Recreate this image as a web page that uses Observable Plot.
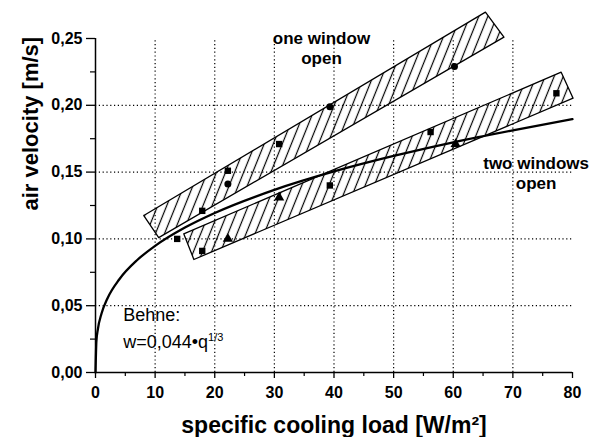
<!DOCTYPE html>
<html><head><meta charset="utf-8">
<script src="https://cdn.jsdelivr.net/npm/d3@7"></script>
<script src="https://cdn.jsdelivr.net/npm/@observablehq/plot@0.6"></script>
<style>body{margin:0;background:#fff;}</style>
</head><body><div id="chart"></div>
<script>
// ---- data ----
const xTicks = [0, 10, 20, 30, 40, 50, 60, 70, 80];
const xMinor = [5, 15, 25, 35, 45, 55, 65, 75];
const yTicks = [0, 0.05, 0.10, 0.15, 0.20, 0.25];
const yMinor = [0.025, 0.075, 0.125, 0.175, 0.225];
const xGrid = [10, 20, 30, 40, 50, 60, 70];
const yGrid = [0.05, 0.10, 0.15, 0.20];

// measured points
const squareX = [13.7, 17.9, 17.9, 22.2, 30.8, 39.3, 56.2, 77.3];
const squareY = [0.100, 0.091, 0.121, 0.151, 0.171, 0.140, 0.180, 0.209];
const circleX = [22.2, 39.3, 60.2];
const circleY = [0.141, 0.199, 0.229];
const triangleX = [22.2, 30.8, 60.4];
const triangleY = [0.100, 0.131, 0.171];

// hatched bands (corners)
const bandOneX = [8.1, 65.4, 68.5, 10.6];
const bandOneY = [0.1175, 0.2697, 0.251, 0.101];
const bandTwoX = [14.8, 78.1, 80.1, 16.5];
const bandTwoY = [0.1038, 0.2248, 0.2053, 0.0846];

// Behne curve
const curveQ = [0, 0.15, 0.4, 1, 2, 4, 7, 10, 15, 20, 30, 40, 50, 60, 70, 80];
const curveW = [0, 0.0234, 0.0325, 0.044, 0.0554, 0.0698, 0.0842, 0.0948, 0.1085, 0.1194, 0.1367, 0.1505, 0.1621, 0.1723, 0.1813, 0.1896];

// annotations
const labelText = ["one window", "open", "two windows", "open"];
const labelX = [37.9, 37.9, 73.9, 73.9];
const labelY = [0.250, 0.2348, 0.1567, 0.1412];
const behneText = ["Behne:", "w=0,044•q^1/3"];
const behneX = [4.65, 4.65];
const behneY = [0.0427, 0.0227];

const xLabel = "specific cooling load [W/m²]";
const yLabel = "air velocity [m/s]";

// ---- tables ----
const toRows = (xs, ys, extra = {}) => xs.map((x, i) => ({x, y: ys[i], ...extra}));
const closePoly = (xs, ys, band) => toRows([...xs, xs[0]], [...ys, ys[0]], {band});
const bands = [...closePoly(bandOneX, bandOneY, "one"), ...closePoly(bandTwoX, bandTwoY, "two")];
const curve = toRows(curveQ, curveW);
const labels = labelText.map((t, i) => ({t, x: labelX[i], y: labelY[i]}));
const behne = behneText.map((t, i) => ({t, x: behneX[i], y: behneY[i]}));
const fmtY = d => d3.format(".2f")(d).replace(".", ",");

const font = "Liberation Sans, Arial, Helvetica, sans-serif";

const svg = Plot.plot({
  width: 592,
  height: 437,
  marginLeft: 95,
  marginRight: 20,
  marginTop: 38,
  marginBottom: 65,
  style: {fontFamily: font, background: "#fff", color: "#000", overflow: "visible"},
  x: {domain: [0, 80]},
  y: {domain: [0, 0.25]},
  marks: [
    Plot.ruleX(xGrid, {y1: 0, y2: 0.25, stroke: "#000", strokeWidth: 1.2, strokeDasharray: "1.2,2.6"}),
    Plot.ruleY(yGrid, {x1: 0, x2: 80, stroke: "#000", strokeWidth: 1.2, strokeDasharray: "1.2,2.6"}),
    Plot.line(bands, {x: "x", y: "y", z: "band", fill: "url(#hatch)", stroke: "#000", strokeWidth: 1.3, curve: "linear"}),
    Plot.line(curve, {x: "x", y: "y", stroke: "#000", strokeWidth: 2.3, curve: "monotone-x"}),
    Plot.ruleY([0], {stroke: "#000", strokeWidth: 1.5}),
    Plot.ruleX([0], {stroke: "#000", strokeWidth: 1.5}),
    Plot.axisX({ticks: xTicks, tickFormat: d => String(d), tickSize: 6, tickPadding: 8, fontSize: 16, fontWeight: "bold", label: null, strokeWidth: 1.3}),
    Plot.axisX({ticks: xMinor, tickSize: 4, text: null, label: null, strokeWidth: 1.2}),
    Plot.axisY({ticks: yTicks, tickFormat: fmtY, tickSize: 9, tickPadding: 4, fontSize: 16, fontWeight: "bold", label: null, strokeWidth: 1.3}),
    Plot.axisY({ticks: yMinor, tickSize: 5, text: null, label: null, strokeWidth: 1.2}),
    Plot.dot(toRows(squareX, squareY), {x: "x", y: "y", symbol: "square", r: 3.6, fill: "#000", stroke: null}),
    Plot.dot(toRows(circleX, circleY), {x: "x", y: "y", symbol: "circle", r: 3.5, fill: "#000", stroke: null}),
    Plot.dot(toRows(triangleX, triangleY), {x: "x", y: "y", symbol: "triangle", r: 3.8, fill: "#000", stroke: null}),
    Plot.text(labels, {x: "x", y: "y", text: "t", fontSize: 17, fontWeight: "bold", fill: "#000", textAnchor: "middle", lineAnchor: "middle"}),
    Plot.text(behne, {x: "x", y: "y", text: "t", fontSize: 18, fill: "#000", textAnchor: "start", lineAnchor: "middle"}),
    Plot.text([xLabel], {frameAnchor: "bottom", dy: 53, fontSize: 23, fontWeight: "bold", fill: "#000", lineAnchor: "middle"}),
    Plot.text([yLabel], {frameAnchor: "left", dx: -65, dy: 5, rotate: -90, fontSize: 22, fontWeight: "bold", fill: "#000", lineAnchor: "middle"})
  ]
});

// hatch pattern
d3.select(svg).insert("defs", ":first-child").html(
  '<pattern id="hatch" patternUnits="userSpaceOnUse" width="8.4" height="8.4" patternTransform="rotate(22)">' +
  '<line x1="4.2" y1="-1" x2="4.2" y2="9.4" stroke="#000" stroke-width="1.2"/></pattern>'
);

// superscript for the Behne formula
d3.select(svg).selectAll("text").each(function() {
  const el = d3.select(this);
  const s = el.text();
  if (s.includes("^")) {
    const [base, sup] = s.split("^");
    el.text(base);
    el.append("tspan").attr("font-size", 11).attr("dy", "-0.65em").text(sup);
  }
});

document.getElementById("chart").appendChild(svg);
</script></body></html>
